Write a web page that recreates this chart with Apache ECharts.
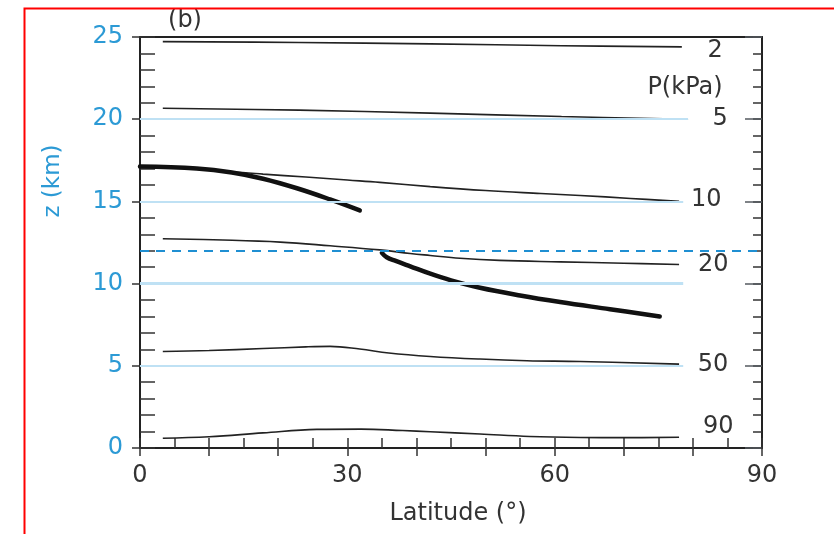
<!DOCTYPE html>
<html>
<head>
<meta charset="utf-8">
<style>
  html, body { margin: 0; padding: 0; background: #ffffff; }
  #chart { width: 834px; height: 534px; }
</style>
<script src="https://cdn.jsdelivr.net/npm/echarts@6/dist/echarts.min.js"></script>
</head>
<body>
<div id="chart"></div>
<script>
// Isobars: [latitude (deg), height (km)]
const isobar2 = [[3.3, 24.72], [23, 24.67], [42, 24.58], [61, 24.47], [78.4, 24.4]];
const isobar5 = [[3.3, 20.67], [23, 20.55], [42, 20.37], [61, 20.16], [79.3, 20.0]];
const isobar10 = [[0, 17.1], [8, 17.0], [13.3, 16.8], [17.8, 16.66], [24, 16.48], [30, 16.3],
  [34.7, 16.16], [42, 15.9], [50, 15.66], [58, 15.48], [63.7, 15.36], [71, 15.18], [78, 15.0]];
const isobar20 = [[3.3, 12.73], [12, 12.65], [20.3, 12.52], [27.5, 12.3], [34.7, 12.05],
  [39.1, 11.83], [42, 11.71], [46.3, 11.54], [52, 11.41], [60.8, 11.32], [70, 11.24], [78, 11.16]];
const isobar50 = [[3.3, 5.87], [10, 5.93], [17.8, 6.05], [24, 6.15], [27.5, 6.18], [31.8, 6.02],
  [36, 5.78], [42, 5.57], [49.2, 5.41], [56, 5.31], [63.7, 5.26], [78, 5.1]];
const isobar90 = [[3.3, 0.59], [10, 0.68], [17.8, 0.92], [25.6, 1.13], [32, 1.15], [38, 1.06],
  [42, 0.99], [49.2, 0.85], [56.4, 0.7], [63.7, 0.64], [70, 0.63], [78, 0.65]];

// Tropopause: tropical and extratropical branches
const tropopauseTropics = [[0, 17.12], [8.2, 17.0], [13.3, 16.76], [17.8, 16.38], [22.7, 15.8],
  [27.5, 15.12], [31.8, 14.45]];
const tropopauseMidLat = [[35.0, 11.87], [35.7, 11.6], [37, 11.38], [39.1, 11.05], [42, 10.6],
  [45, 10.2], [49.2, 9.75], [55, 9.28], [60.8, 8.88], [68, 8.44], [75.2, 8.0]];

const pressureLabels = ['2', '5', '10', '20', '50', '90'];
const heightGridLevels = [5, 10, 15, 20];
const heightGridEnds = [78.6, 78.6, 78.6, 79.3];
const referenceHeight = 12;
const latTickLabels = [0, 30, 60, 90];

const FONT = '"DejaVu Sans", "Liberation Sans", Arial, sans-serif';
const INK = '#222222';
const BLUE = '#2c9ad5';

const chart = echarts.init(document.getElementById('chart'), null, { renderer: 'canvas' });

const isobars = [isobar2, isobar5, isobar10, isobar20, isobar50, isobar90];
const labelOffsets = [[25.7, 4], [24.4, 0], [12, -2], [19, 0], [18.7, 0.6], [24, -10.6]];

const isobarSeries = isobars.map((data, i) => ({
  name: pressureLabels[i] + ' kPa',
  type: 'line',
  data: data,
  smooth: 0.4,
  symbol: 'none',
  silent: true,
  z: 3,
  lineStyle: { color: INK, width: 1.6 },
  endLabel: {
    show: true,
    formatter: pressureLabels[i],
    position: 'right',
    distance: 0,
    offset: labelOffsets[i],
    fontFamily: FONT,
    fontSize: 24,
    color: '#333333'
  }
}));

const tropopauseSeries = [tropopauseTropics, tropopauseMidLat].map((data, i) => ({
  name: 'tropopause ' + (i + 1),
  type: 'line',
  data: data,
  smooth: 0.4,
  symbol: 'none',
  silent: true,
  z: 4,
  lineStyle: { color: '#111111', width: 4.5, cap: 'round' }
}));

// Light-blue height reference lines and the dashed 12 km line
const gridSeries = {
  name: 'height grid',
  type: 'line',
  data: [],
  silent: true,
  z: 1,
  markLine: {
    silent: true,
    symbol: 'none',
    label: { show: false },
    animation: false,
    data: heightGridLevels.map((h, i) => [
      { coord: [0, h], lineStyle: { color: '#bfe1f4', width: h === 10 ? 3 : 2, type: 'solid' } },
      { coord: [heightGridEnds[i], h] }
    ]).concat([[
      { coord: [0, referenceHeight], lineStyle: { color: '#1f8fd2', width: 2, type: [9, 7] } },
      { coord: [90, referenceHeight] }
    ]])
  }
};

const frameLine = () => ({ onZero: false, lineStyle: { color: INK, width: 2 } });
const noLine = () => ({ show: false, onZero: false });
const tickStyle = () => ({ color: '#333333', width: 1.5 });

const option = {
  animation: false,
  backgroundColor: '#ffffff',
  grid: { left: 140, right: 72, top: 37, bottom: 86, containLabel: false },
  xAxis: [
    {
      type: 'value', position: 'bottom', min: 0, max: 90, interval: 5,
      axisLine: frameLine(),
      axisTick: { show: true, inside: true, length: 10, lineStyle: tickStyle() },
      axisLabel: {
        margin: 16, fontFamily: FONT, fontSize: 24, color: '#333333',
        formatter: v => (latTickLabels.indexOf(v) >= 0 ? String(v) : '')
      },
      splitLine: { show: false },
      name: 'Latitude (°)', nameLocation: 'middle', nameGap: 54,
      nameTextStyle: { fontFamily: FONT, fontSize: 24, color: '#333333', padding: [0, 0, 0, 14] }
    },
    {
      type: 'value', position: 'bottom', min: 0, max: 90, interval: 10,
      axisLine: noLine(),
      axisTick: { show: true, inside: false, length: 8, lineStyle: tickStyle() },
      axisLabel: { show: false },
      splitLine: { show: false }
    },
    {
      type: 'value', position: 'top', min: 0, max: 90, interval: 10,
      axisLine: frameLine(),
      axisTick: { show: false },
      axisLabel: { show: false },
      splitLine: { show: false }
    }
  ],
  yAxis: [
    {
      type: 'value', position: 'left', min: 0, max: 25, interval: 1,
      axisLine: frameLine(),
      axisTick: { show: true, inside: true, length: 15, lineStyle: tickStyle() },
      axisLabel: { show: false },
      splitLine: { show: false }
    },
    {
      type: 'value', position: 'left', min: 0, max: 25, interval: 5,
      axisLine: noLine(),
      axisTick: { show: true, inside: false, length: 8, lineStyle: tickStyle() },
      axisLabel: { margin: 17, fontFamily: FONT, fontSize: 24, color: BLUE },
      splitLine: { show: false }
    },
    {
      type: 'value', position: 'right', min: 0, max: 25, interval: 1,
      axisLine: frameLine(),
      axisTick: { show: true, inside: true, length: 9, lineStyle: tickStyle() },
      axisLabel: { show: false },
      splitLine: { show: false }
    },
    {
      type: 'value', position: 'right', min: 0, max: 25, interval: 5,
      axisLine: noLine(),
      axisTick: { show: true, inside: true, length: 17, lineStyle: { color: '#555b60', width: 1.5 } },
      axisLabel: { show: false },
      splitLine: { show: false }
    }
  ],
  series: [gridSeries].concat(isobarSeries, tropopauseSeries),
  graphic: [
    {
      type: 'rect', left: 22, top: 6, z: 100, silent: true,
      shape: { width: 830, height: 560 },
      style: { fill: 'none', stroke: '#ff0000', lineWidth: 2 }
    },
    {
      type: 'text', x: 185, y: 21, silent: true,
      style: { text: '(b)', fontFamily: FONT, fontSize: 24, fill: '#333333', align: 'center', verticalAlign: 'middle' }
    },
    {
      type: 'text', x: 685, y: 88, silent: true,
      style: { text: 'P(kPa)', fontFamily: FONT, fontSize: 24, fill: '#333333', align: 'center', verticalAlign: 'middle' }
    },
    {
      type: 'text', x: 53, y: 181, rotation: Math.PI / 2, silent: true,
      style: { text: 'z (km)', fontFamily: FONT, fontSize: 23, fill: BLUE, align: 'center', verticalAlign: 'middle' }
    }
  ]
};

chart.setOption(option);
</script>
</body>
</html>
